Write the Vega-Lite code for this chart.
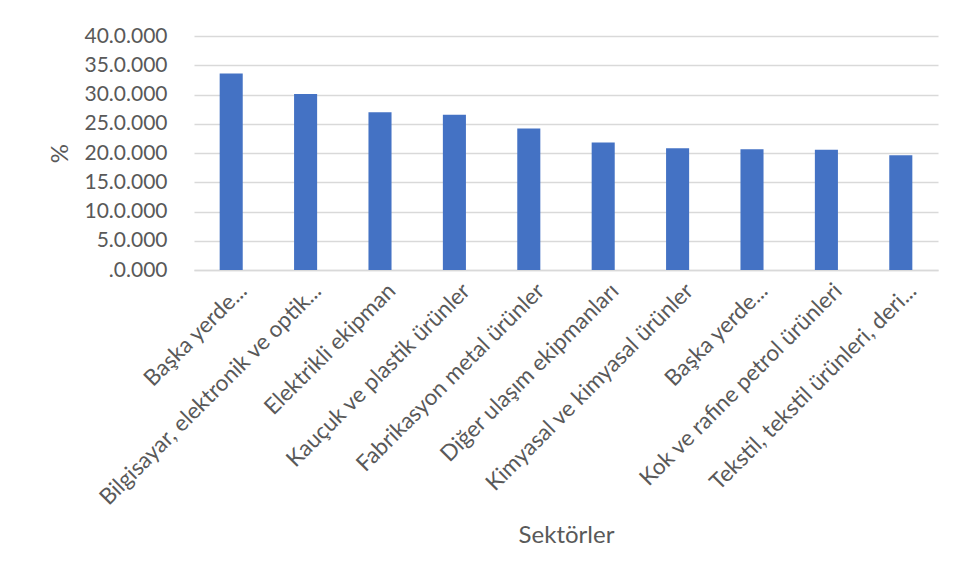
{
  "$schema": "https://vega.github.io/schema/vega-lite/v6.json",
  "width": 744,
  "height": 234,
  "padding": {"left": 194, "top": 36, "right": 22, "bottom": 309},
  "autosize": {"type": "none"},
  "background": "white",
  "config": {
    "view": {"stroke": null},
    "font": "Lato"
  },
  "data": {
    "values": [
      {"sektor": "Başka yerde...|1", "deger": 33.6},
      {"sektor": "Bilgisayar, elektronik ve optik...|2", "deger": 30.1},
      {"sektor": "Elektrikli ekipman|3", "deger": 26.95},
      {"sektor": "Kauçuk ve plastik ürünler|4", "deger": 26.55},
      {"sektor": "Fabrikasyon metal ürünler|5", "deger": 24.2},
      {"sektor": "Diğer ulaşım ekipmanları|6", "deger": 21.8},
      {"sektor": "Kimyasal ve kimyasal ürünler|7", "deger": 20.8},
      {"sektor": "Başka yerde...|8", "deger": 20.65},
      {"sektor": "Kok ve rafine petrol ürünleri|9", "deger": 20.55},
      {"sektor": "Tekstil, tekstil ürünleri, deri...|10", "deger": 19.6}
    ]
  },
  "mark": {"type": "bar", "color": "#4472c4"},
  "encoding": {
    "x": {
      "field": "sektor",
      "type": "nominal",
      "sort": null,
      "scale": {"paddingInner": 0.69, "paddingOuter": 0.345},
      "axis": {
        "title": "Sektörler",
        "titleFont": "Lato",
        "titleFontSize": 24,
        "titleFontWeight": "normal",
        "titleColor": "#595959",
        "titlePadding": 53,
        "labelExpr": "split(datum.label, '|')[0]",
        "labelAngle": -45,
        "labelAlign": "right",
        "labelBaseline": "middle",
        "labelFontSize": 22.5,
        "labelColor": "#595959",
        "labelPadding": 17,
        "labelOffset": 12,
        "labelLimit": 0,
        "ticks": false,
        "domainColor": "#d9d9d9",
        "domainWidth": 1.3
      }
    },
    "y": {
      "field": "deger",
      "type": "quantitative",
      "scale": {"domain": [0, 40]},
      "axis": {
        "title": "%",
        "titleFont": "Lato",
        "titleFontSize": 24,
        "titleFontWeight": "normal",
        "titleColor": "#595959",
        "titlePadding": 12,
        "values": [0, 5, 10, 15, 20, 25, 30, 35, 40],
        "labelExpr": "datum.value == 0 ? '.0.000' : datum.value + '.0.000'",
        "labelFontSize": 21,
        "labelColor": "#595959",
        "labelPadding": 27,
        "ticks": false,
        "domain": false,
        "gridColor": "#d9d9d9",
        "gridWidth": 1.3
      }
    }
  }
}
